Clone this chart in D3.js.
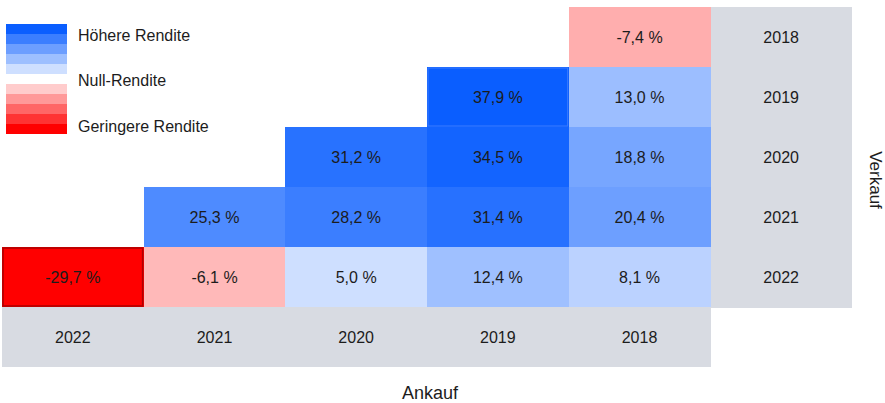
<!DOCTYPE html>
<html>

<head>
  <title>Rendite-Dreieck</title>
  <script src="https://cdn.jsdelivr.net/npm/d3@7/dist/d3.min.js"></script>
  <style type="text/css">
    html,
    body {
      margin: 0;
      padding: 0;
      background: #fff;
    }

    svg {
      display: block;
      font-family: "Liberation Sans", Arial, sans-serif;
    }

    rect {
      shape-rendering: crispEdges;
    }

    .cell text,
    .head text {
      font-size: 16px;
      fill: #1c1c1c;
    }

    .legend text {
      font-size: 16px;
      fill: #1c1c1c;
    }

    .title {
      font-size: 18px;
      fill: #1c1c1c;
    }
  </style>
</head>

<body>
  <svg class="svg"></svg>
  <script type="text/javascript">
    // Ankauf-Jahre (Spalten) und Verkauf-Jahre (Zeilen)
    var buyYears = [2022, 2021, 2020, 2019, 2018];
    var sellYears = [2018, 2019, 2020, 2021, 2022];

    // Renditen je Verkaufsjahr, Reihenfolge wie buyYears (null = kein Wert)
    var sell2018 = [null, null, null, null, -7.4];
    var sell2019 = [null, null, null, 37.9, 13.0];
    var sell2020 = [null, null, 31.2, 34.5, 18.8];
    var sell2021 = [null, 25.3, 28.2, 31.4, 20.4];
    var sell2022 = [-29.7, -6.1, 5.0, 12.4, 8.1];

    var legendLabels = ['Höhere Rendite', 'Null-Rendite', 'Geringere Rendite'];
    var legendSteps = [1, 0.8, 0.6, 0.4, 0.2];

    var rows = [sell2018, sell2019, sell2020, sell2021, sell2022];
    var data = [];
    rows.forEach(function (r, i) {
      r.forEach(function (v, j) {
        if (v !== null) data.push({ sell: sellYears[i], buy: buyYears[j], value: v });
      });
    });

    var width = 885,
      height = 403;

    var svg = d3.select('.svg')
      .attr('width', width)
      .attr('height', height);

    var blue = d3.rgb(10, 94, 255);
    var red = d3.rgb(255, 0, 0);

    var xScale = d3.scaleBand()
      .domain(buyYears.concat(['head']))
      .range([2, 852]);

    var yScale = d3.scaleBand()
      .domain(sellYears.concat(['head']))
      .range([7, 367]);

    var posOpacity = d3.scaleLinear().domain([0, 36]).range([0.07, 1]).clamp(true);
    var negOpacity = d3.scaleLinear().domain([0, 28]).range([0.07, 1]).clamp(true);

    function mix(c, a) {
      return d3.interpolateRgb('#ffffff', c)(a);
    }

    function cellColor(v) {
      return v >= 0 ? mix(blue, posOpacity(v)) : mix(red, negOpacity(-v));
    }

    // deutsches Format, normaler Bindestrich als Minus
    var fmt = function (v) {
      return d3.format('.1f')(v).replace('\u2212', '-').replace('.', ',') + ' %';
    };

    var maxV = d3.max(data, d => d.value),
      minV = d3.min(data, d => d.value);

    // Kopfzellen
    var head = svg.append('g').attr('class', 'head');

    head.selectAll('.col')
      .data(buyYears)
      .enter()
      .append('g')
      .attr('class', 'col')
      .each(function (d) {
        var g = d3.select(this);
        g.append('rect')
          .attr('x', xScale(d))
          .attr('y', yScale('head'))
          .attr('width', xScale.bandwidth() + 0.5)
          .attr('height', yScale.bandwidth())
          .attr('fill', '#d8dbe2');
        g.append('text')
          .attr('x', xScale(d) + xScale.bandwidth() / 2)
          .attr('y', yScale('head') + yScale.bandwidth() / 2)
          .attr('text-anchor', 'middle')
          .attr('dy', '0.35em')
          .text(d);
      });

    head.selectAll('.row')
      .data(sellYears)
      .enter()
      .append('g')
      .attr('class', 'row')
      .each(function (d) {
        var g = d3.select(this);
        g.append('rect')
          .attr('x', xScale('head'))
          .attr('y', yScale(d))
          .attr('width', xScale.bandwidth())
          .attr('height', yScale.bandwidth() + 0.5)
          .attr('fill', '#d8dbe2');
        g.append('text')
          .attr('x', xScale('head') + xScale.bandwidth() / 2)
          .attr('y', yScale(d) + yScale.bandwidth() / 2)
          .attr('text-anchor', 'middle')
          .attr('dy', '0.35em')
          .text(d);
      });

    // Werte-Zellen
    var cells = svg.selectAll('.cell')
      .data(data)
      .enter()
      .append('g')
      .attr('class', 'cell');

    cells.append('rect')
      .attr('x', d => xScale(d.buy))
      .attr('y', d => yScale(d.sell))
      .attr('width', xScale.bandwidth() + 0.5)
      .attr('height', yScale.bandwidth())
      .attr('fill', d => cellColor(d.value));

    // Extremwerte umrandet
    cells.filter(d => d.value === maxV || d.value === minV)
      .append('rect')
      .style('shape-rendering', 'auto')
      .attr('x', d => xScale(d.buy) + 1)
      .attr('y', d => yScale(d.sell) + 1)
      .attr('width', xScale.bandwidth() - 2)
      .attr('height', yScale.bandwidth() - 2)
      .attr('fill', 'none')
      .attr('stroke', d => d.value === maxV ? '#3d7dff' : '#b00000')
      .attr('stroke-width', d => d.value === maxV ? 1 : 1.6);

    cells.append('text')
      .attr('x', d => xScale(d.buy) + xScale.bandwidth() / 2)
      .attr('y', d => yScale(d.sell) + yScale.bandwidth() / 2)
      .attr('text-anchor', 'middle')
      .attr('dy', '0.35em')
      .text(d => fmt(d.value));

    // Achsentitel
    svg.append('text')
      .attr('class', 'title')
      .attr('x', (xScale.range()[0] + xScale.range()[1]) / 2 + 3)
      .attr('y', 393)
      .attr('text-anchor', 'middle')
      .attr('dy', '0.35em')
      .text('Ankauf');

    svg.append('text')
      .attr('class', 'title')
      .style('font-size', '17px')
      .attr('transform', 'translate(876,180) rotate(90)')
      .attr('text-anchor', 'middle')
      .attr('dy', '0.35em')
      .text('Verkauf');

    // Legende
    var legend = svg.append('g').attr('class', 'legend');
    var bandH = 10;

    legend.selectAll('.lb')
      .data(legendSteps)
      .enter()
      .append('rect')
      .attr('class', 'lb')
      .attr('x', 6)
      .attr('y', (d, i) => 24 + i * bandH)
      .attr('width', 61)
      .attr('height', bandH)
      .attr('fill', d => mix(blue, d));

    legend.selectAll('.lr')
      .data(legendSteps.slice().reverse())
      .enter()
      .append('rect')
      .attr('class', 'lr')
      .attr('x', 6)
      .attr('y', (d, i) => 84 + i * bandH)
      .attr('width', 61)
      .attr('height', bandH)
      .attr('fill', d => mix(red, d));

    legend.selectAll('text')
      .data(legendLabels)
      .enter()
      .append('text')
      .attr('x', 78)
      .attr('y', (d, i) => [35, 80, 126][i])
      .attr('dy', '0.35em')
      .text(d => d);
  </script>
</body>

</html>
